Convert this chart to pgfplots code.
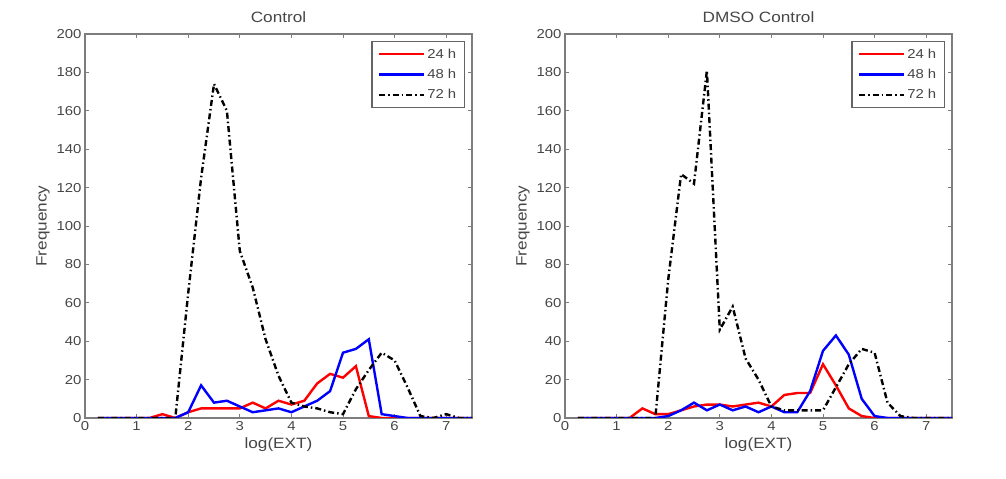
\documentclass[border=0pt]{standalone}
\usepackage{fontspec}
\setmainfont{Liberation Sans}[FakeStretch=1.15]
\usepackage{pgfplots}
\pgfplotsset{compat=1.18}
\usepackage{pgfplotstable}

\definecolor{txtgray}{RGB}{70,70,70}
\definecolor{framegray}{RGB}{125,125,125}

% x  24h  48h  72h
\pgfplotstableread{
x    r   b   k
0.25 0   0   0
0.50 0   0   0
0.75 0   0   0
1.00 0   0   0
1.25 0   0   0
1.50 2   0   0
1.75 0   0   0
2.00 3   3   65
2.25 5   17  125
2.50 5   8   174
2.75 5   9   160
3.00 5   6   87
3.25 8   3   68
3.50 5   4   41
3.75 9   5   22
4.00 7   3   8
4.25 9   6   6
4.50 18  9   5
4.75 23  14  3
5.00 21  34  2
5.25 27  36  15
5.50 1   41  25
5.75 0   2   34
6.00 0   1   30
6.25 0   0   16
6.50 0   0   1
6.75 0   0   0
7.00 0   0   2
7.25 0   0   0
7.50 0   0   0
}\ctrl

\pgfplotstableread{
x    r   b   k
0.25 0   0   0
0.50 0   0   0
0.75 0   0   0
1.00 0   0   0
1.25 0   0   0
1.50 5   0   0
1.75 2   0   0
2.00 2   1   72
2.25 4   4   127
2.50 6   8   122
2.75 7   4   181
3.00 7   7   46
3.25 6   4   58
3.50 7   6   31
3.75 8   3   20
4.00 6   6   6
4.25 12  3   4
4.50 13  3   4
4.75 13  14  4
5.00 28  35  4
5.25 17  43  16
5.50 5   33  28
5.75 1   10  36
6.00 0   1   34
6.25 0   0   8
6.50 0   0   1
6.75 0   0   0
7.00 0   0   0
7.25 0   0   0
7.50 0   0   0
}\dmso

\pgfplotsset{
  histstyle/.style={
    scale only axis, width=387bp, height=384bp,
    xmin=0, xmax=7.5, ymin=0, ymax=200,
    xtick={0,1,...,7}, ytick={0,20,...,200},
    tick align=inside, major tick length=4bp,
    axis line style={framegray, line width=1.2bp},
    tick style={framegray, line width=0.8bp},
    /pgf/number format/assume math mode=true,
    ticklabel style={font=\fontsize{13}{15}\selectfont, text=txtgray},
    label style={font=\fontsize{15}{17}\selectfont, text=txtgray},
    title style={font=\fontsize{15}{17}\selectfont, text=txtgray, yshift=2bp},
    xlabel={log(EXT)}, ylabel={Frequency},
    legend style={at={(1,1)}, anchor=north east, xshift=-7bp, yshift=-7bp,
      draw=framegray!80!black, line width=1.5bp,
      font=\fontsize{13}{15}\selectfont, text=txtgray,
      row sep=5.5bp, inner xsep=6bp, inner ysep=5bp},
    legend cell align=left,
    legend image code/.code={\draw[##1] (0bp,0bp) -- (45bp,0bp);},
  },
  r24/.style={red, line width=2.4bp},
  b48/.style={blue, line width=2.4bp},
  k72/.style={black, line width=2.4bp, dash pattern=on 6bp off 3bp on 1.5bp off 3bp},
}

\begin{document}
\begin{tikzpicture}
\path[use as bounding box] (0,0) rectangle (1006bp,479bp);

\begin{axis}[histstyle, at={(85bp,61bp)}, anchor=south west, title={Control}]
  \addplot[r24] table[x=x, y=r] {\ctrl};
  \addplot[b48] table[x=x, y=b] {\ctrl};
  \addplot[k72] table[x=x, y=k] {\ctrl};
  \legend{24 h, 48 h, 72 h}
\end{axis}

\begin{axis}[histstyle, at={(565bp,61bp)}, anchor=south west, title={DMSO Control}]
  \addplot[r24] table[x=x, y=r] {\dmso};
  \addplot[b48] table[x=x, y=b] {\dmso};
  \addplot[k72] table[x=x, y=k] {\dmso};
  \legend{24 h, 48 h, 72 h}
\end{axis}
\end{tikzpicture}
\end{document}
